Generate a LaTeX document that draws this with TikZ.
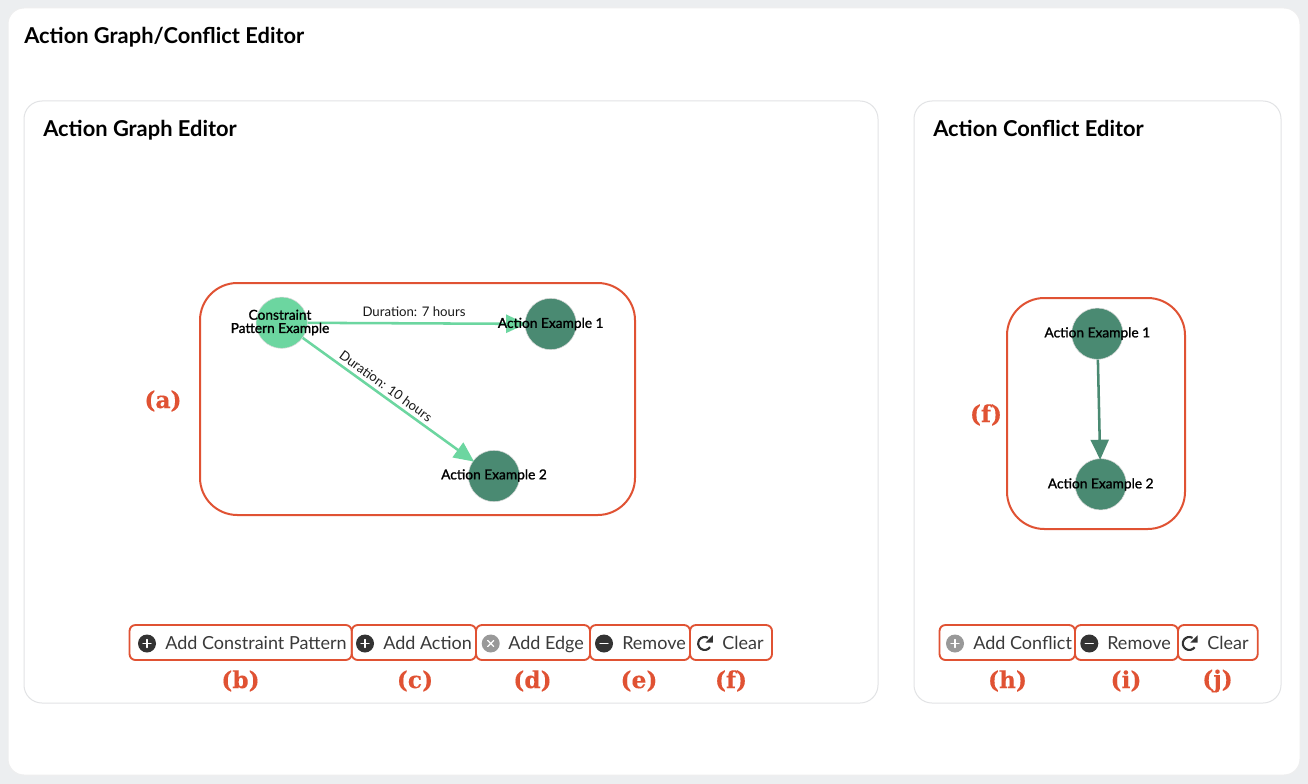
\documentclass[tikz,border=0pt]{standalone}
\usepackage{fontspec}
\setmainfont{Lato}
\newfontfamily\uifont{Lato}
\newfontfamily\nodefont[FakeBold=1.3]{Lato}
\newfontfamily\refont[FakeBold=0.2]{DejaVu Serif}
\usetikzlibrary{arrows.meta,positioning}
\definecolor{pagebg}{HTML}{ECEEF0}
\definecolor{panelline}{HTML}{E2E3E5}
\definecolor{redmark}{HTML}{E05233}
\definecolor{lightgreen}{HTML}{6CD6A0}
\definecolor{darkgreen}{HTML}{4A8A72}
\definecolor{icondark}{HTML}{333333}
\definecolor{icongray}{HTML}{999999}
\definecolor{btntext}{HTML}{3A3A3A}
\tikzset{
 x=0.75pt,y=-0.75pt,
 panel/.style={draw=panelline,line width=0.75pt,fill=white,rounded corners=13.5pt},
 regionbox/.style={draw=redmark,line width=1.5pt,rounded corners=28pt},
 btnbox/.style={draw=redmark,line width=1.4pt,rounded corners=4.5pt},
 gnode/.style={circle,minimum size=38.5pt,inner sep=0pt,draw=white!70!gray,line width=0.4pt},
 lightnode/.style={gnode,fill=lightgreen},
 darknode/.style={gnode,fill=darkgreen},
 gtext/.style={font=\nodefont\fontsize{10.3pt}{9.9pt}\selectfont,align=center,text=black,inner sep=0pt},
 elabel/.style={font=\uifont\fontsize{9.9pt}{11pt}\selectfont,text=black!90,inner sep=0pt},
 ledge/.style={draw=lightgreen,line width=1.9pt,-{Triangle[length=15pt,width=13.5pt]},shorten >=-1pt},
 dedge/.style={draw=darkgreen,line width=1.9pt,-{Triangle[length=15pt,width=13.5pt]},shorten >=-1pt},
 title/.style={font=\uifont\bfseries\fontsize{16.4pt}{18pt}\selectfont,anchor=base west,inner sep=0pt,text=black},
 btntxt/.style={font=\uifont\fontsize{13.5pt}{16pt}\selectfont,anchor=base west,inner sep=0pt,text=btntext},
 redlabel/.style={font=\refont\bfseries\fontsize{17.5pt}{20pt}\selectfont,text=redmark,inner sep=0pt},
 icon/.style={circle,minimum size=13.5pt,inner sep=0pt,fill=#1},
 glyph/.style={draw=white,line width=1pt,line cap=round},
 redo/.style={draw=icondark,line width=1.6pt},
}
\newcommand{\plusicon}[4]{\node[icon=#4] (#1) at (#2,#3) {};
 \draw[glyph] (#2-4,#3)--(#2+4,#3) (#2,#3-4)--(#2,#3+4);}
\newcommand{\minusicon}[3]{\node[icon=icondark] (#1) at (#2,#3) {};
 \draw[glyph] (#2-4,#3)--(#2+4,#3);}
\newcommand{\crossicon}[3]{\node[icon=icongray] (#1) at (#2,#3) {};
 \draw[glyph] (#2-3,#3-3)--(#2+3,#3+3) (#2-3,#3+3)--(#2+3,#3-3);}
\newcommand{\redoicon}[2]{
 \draw[redo] (#1+5.3,#2+3.7) arc[start angle=-35,end angle=-300,radius=4.875pt];
 \fill[icondark] (#1+8.2,#2-8.2) -- (#1+8.2,#2-1) -- (#1+1,#2-1) -- cycle;}
\begin{document}
\begin{tikzpicture}
\useasboundingbox (0,0) rectangle (1308,784);
\fill[pagebg] (0,0) rectangle (1308,784);
\draw[panel,rounded corners=12pt,draw=panelline!60!white] (8,8) rectangle (1300,775);
\draw[panel] (24,101) rectangle (878,703);
\draw[panel] (914,101) rectangle (1281,703);
\node[title] (t0) at (24,43.5) {Action Graph/Conflict Editor};
\node[title] (t1) at (43,137) {Action Graph Editor};
\node[title] (t2) at (933,137) {Action Conflict Editor};
% left graph
\draw[regionbox] (200,283) rectangle (635,515);
\node[lightnode] (c) at (281.7,322.7) {};
\node[darknode] (a1) at (550.7,324) {};
\node[darknode] (a2) at (494,476) {};
\draw[ledge] (c) -- (a1);
\draw[ledge] (c) -- (a2);
\node[gtext] (ct) at (280,322.5) {Constraint\\Pattern Example};
\node[gtext] (a1t) at (550.7,324) {Action Example 1};
\node[gtext] (a2t) at (494,475.5) {Action Example 2};
\node[elabel] (e1) at (414,311.5) {Duration: 7 hours};
\node[elabel,rotate=-36] (e2) at (386,386) {Duration: 10 hours};
% right graph
\draw[regionbox] (1007,298) rectangle (1185,529);
\node[darknode] (b1) at (1097.3,333.7) {};
\node[darknode] (b2) at (1100.7,484.3) {};
\draw[dedge] (b1) -- (b2);
\node[gtext] (b1t) at (1097.3,333.5) {Action Example 1};
\node[gtext] (b2t) at (1100.7,484.5) {Action Example 2};
% region labels
\node[redlabel] (la) at (163,401) {(a)};
\node[redlabel] (lf2) at (986,415) {(f)};
% buttons
\foreach \xa/\xb in {129.5/351.7,351.7/476,476/590,590/690,690/772,939.5/1075,1075/1178,1178/1257.7}
  \draw[btnbox] (\xa,625) rectangle (\xb,660);
\plusicon{i1}{147}{643.5}{icondark}
\plusicon{i2}{365}{643.5}{icondark}
\crossicon{i3}{490.7}{643.5}
\minusicon{i4}{604}{643.5}
\redoicon{704.7}{643.5}
\plusicon{i6}{955}{643.5}{icongray}
\minusicon{i7}{1089.3}{643.5}
\redoicon{1189.3}{643.5}
\node[btntxt] (b1l) at (165,649.5) {Add Constraint Pattern};
\node[btntxt] (b2l) at (383,649.5) {Add Action};
\node[btntxt] (b3l) at (508,649.5) {Add Edge};
\node[btntxt] (b4l) at (622,649.5) {Remove};
\node[btntxt] (b5l) at (722,649.5) {Clear};
\node[btntxt] (b6l) at (973,649.5) {Add Conflict};
\node[btntxt] (b7l) at (1107,649.5) {Remove};
\node[btntxt] (b8l) at (1207,649.5) {Clear};
\node[redlabel] (lb) at (240.5,681) {(b)};
\node[redlabel] (lc) at (415,681) {(c)};
\node[redlabel] (ld) at (532.5,681) {(d)};
\node[redlabel] (le) at (639,681) {(e)};
\node[redlabel] (lf) at (731,681) {(f)};
\node[redlabel] (lh) at (1007.5,681) {(h)};
\node[redlabel] (li) at (1126,681) {(i)};
\node[redlabel] (lj) at (1217.5,681) {(j)};
\end{tikzpicture}
\end{document}
